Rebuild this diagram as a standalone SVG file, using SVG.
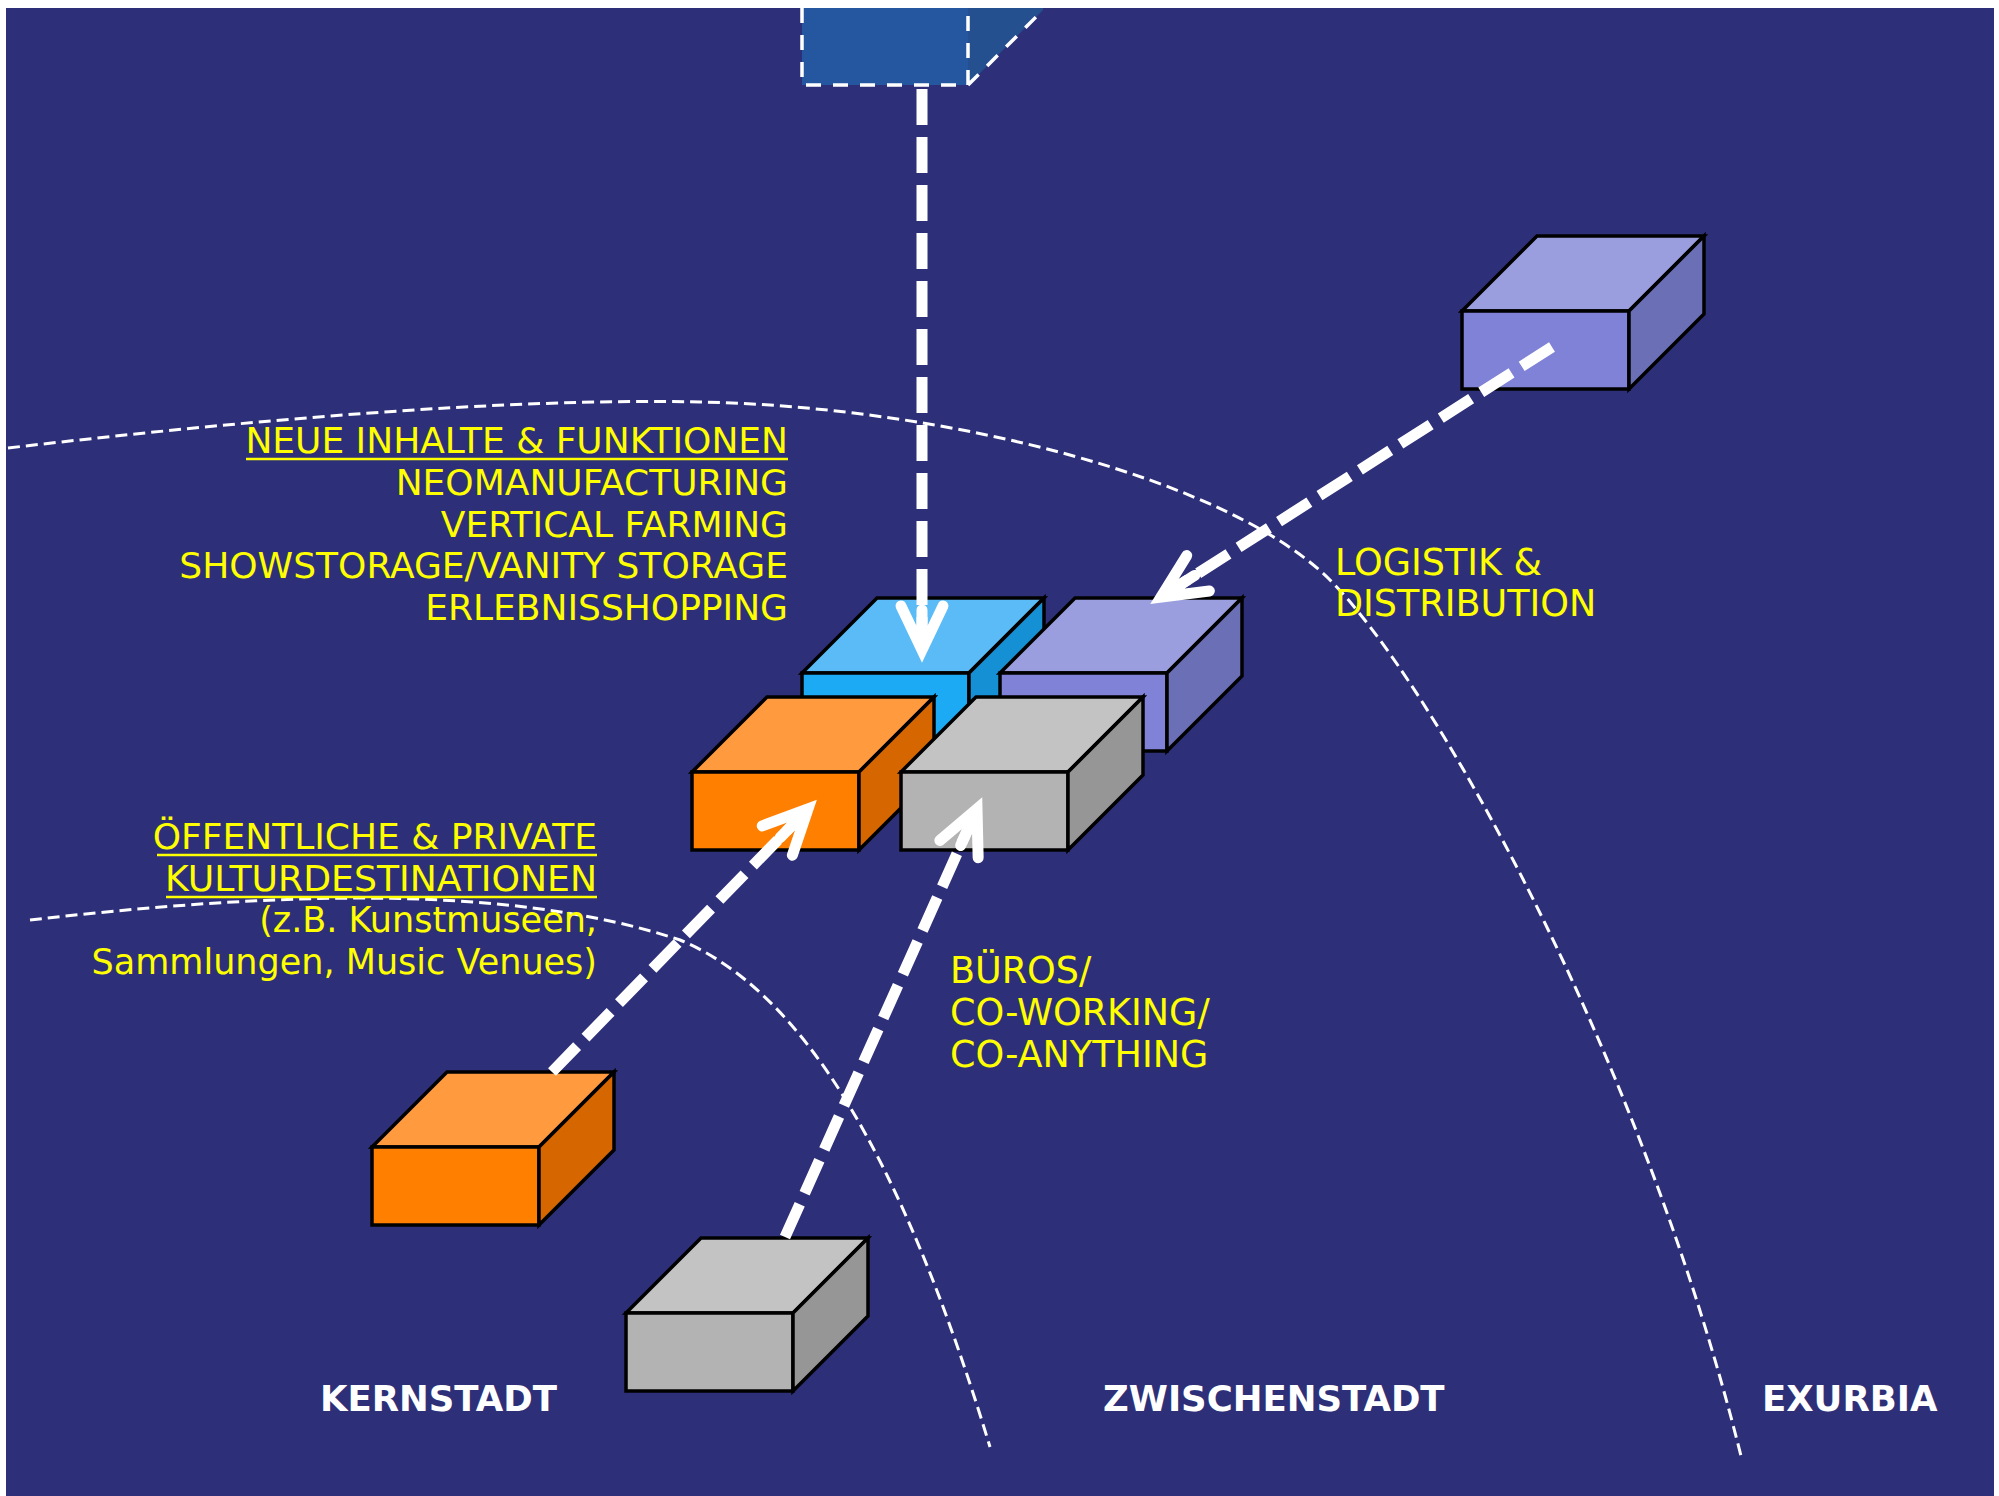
<svg xmlns="http://www.w3.org/2000/svg" width="1999" height="1496" viewBox="0 0 1999 1496">
<style>
.bx{stroke:#000;stroke-width:3.5;stroke-linejoin:miter}
.bt{fill:#5BBBF7}.bf{fill:#1CAAF5}.bs{fill:#1690D4}
.pt{fill:#9A9EDF}.pf{fill:#7F82D6}.ps{fill:#6B6FB6}
.ot{fill:#FF9A3E}.of{fill:#FF7F00}.os{fill:#D56600}
.gt{fill:#C3C3C3}.gf{fill:#B3B3B3}.gs{fill:#969696}
.zone{fill:none;stroke:#fff;stroke-width:3;stroke-dasharray:12 6}
.conn{fill:none;stroke:#fff;stroke-width:11;stroke-dasharray:36 12}
.ylw{font-family:"DejaVu Sans",Verdana,sans-serif;font-size:36px;fill:#FFFF00}
.ul{stroke:#FFFF00;stroke-width:2.5}
.zl{font-family:"DejaVu Sans",Verdana,sans-serif;font-size:35.5px;font-weight:bold;fill:#fff}
</style>
<defs>
<marker id="ah" markerUnits="userSpaceOnUse" viewBox="-60 -30 70 60" refX="0" refY="0" markerWidth="70" markerHeight="60" orient="auto" overflow="visible">
<path d="M-44,-21 L0,0 L-44,21 M-40,0 L0,0" fill="none" stroke="#fff" stroke-width="11" stroke-linecap="round" stroke-linejoin="miter" stroke-miterlimit="10"/>
</marker>
</defs>
<rect x="0" y="0" width="1999" height="1496" fill="#fff"/>
<rect x="6" y="8" width="1988" height="1488" fill="#2D3079"/>

<g id="zones">
<path class="zone" d="M8,448 C250,420 500,398 700,402 C950,407 1230,480 1330,580 C1430,680 1640,1050 1741,1456"/>
<path class="zone" d="M30,920 C250,895 500,880 680,940 C800,990 900,1150 990,1447"/>
</g>

<g id="box-top">
<rect x="802" y="8" width="166" height="77" fill="#2557A0"/>
<polygon points="968,8 1043,8 1043,10 968,85" fill="#25508F"/>
<path d="M802,8 L802,85 L968,85 L968,8 M968,85 L1043,10" fill="none" stroke="#fff" stroke-width="3.5" stroke-dasharray="15 12"/>
</g>

<g id="box-blue" class="bx" transform="translate(802,673)">
<polygon class="bt" points="0,0 75,-75 242,-75 167,0"/>
<rect class="bf" x="0" y="0" width="167" height="78"/>
<polygon class="bs" points="167,0 242,-75 242,3 167,78"/>
</g>
<g id="box-purple-mid" class="bx" transform="translate(1000,673)">
<polygon class="pt" points="0,0 75,-75 242,-75 167,0"/>
<rect class="pf" x="0" y="0" width="167" height="78"/>
<polygon class="ps" points="167,0 242,-75 242,3 167,78"/>
</g>
<g id="box-orange-mid" class="bx" transform="translate(692,772)">
<polygon class="ot" points="0,0 75,-75 242,-75 167,0"/>
<rect class="of" x="0" y="0" width="167" height="78"/>
<polygon class="os" points="167,0 242,-75 242,3 167,78"/>
</g>
<g id="box-gray-mid" class="bx" transform="translate(901,772)">
<polygon class="gt" points="0,0 75,-75 242,-75 167,0"/>
<rect class="gf" x="0" y="0" width="167" height="78"/>
<polygon class="gs" points="167,0 242,-75 242,3 167,78"/>
</g>
<g id="box-purple-top" class="bx" transform="translate(1462,311)">
<polygon class="pt" points="0,0 75,-75 242,-75 167,0"/>
<rect class="pf" x="0" y="0" width="167" height="78"/>
<polygon class="ps" points="167,0 242,-75 242,3 167,78"/>
</g>
<g id="box-orange-bottom" class="bx" transform="translate(372,1147)">
<polygon class="ot" points="0,0 75,-75 242,-75 167,0"/>
<rect class="of" x="0" y="0" width="167" height="78"/>
<polygon class="os" points="167,0 242,-75 242,3 167,78"/>
</g>
<g id="box-gray-bottom" class="bx" transform="translate(626,1313)">
<polygon class="gt" points="0,0 75,-75 242,-75 167,0"/>
<rect class="gf" x="0" y="0" width="167" height="78"/>
<polygon class="gs" points="167,0 242,-75 242,3 167,78"/>
</g>

<g id="connectors">
<path class="conn" d="M922,89 L922,650" marker-end="url(#ah)"/>
<path class="conn" d="M1552,347 L1161,597" marker-end="url(#ah)"/>
<path class="conn" d="M552,1072 L808,809" marker-end="url(#ah)"/>
<path class="conn" d="M785,1237 L977,809" marker-end="url(#ah)"/>
</g>

<g id="label-neue" class="ylw" text-anchor="end">
<text x="788" y="453">NEUE INHALTE &amp; FUNKTIONEN</text>
<text x="788" y="495">NEOMANUFACTURING</text>
<text x="788" y="537">VERTICAL FARMING</text>
<text x="788" y="578">SHOWSTORAGE/VANITY STORAGE</text>
<text x="788" y="620">ERLEBNISSHOPPING</text>
</g>
<line class="ul" x1="246" y1="459" x2="788" y2="459"/>

<g id="label-kultur" class="ylw" text-anchor="end" style="font-size:35px">
<text x="597" y="849" style="font-size:36px">ÖFFENTLICHE &amp; PRIVATE</text>
<text x="597" y="891" style="font-size:36.2px">KULTURDESTINATIONEN</text>
<text x="597" y="932">(z.B. Kunstmuseen,</text>
<text x="597" y="974">Sammlungen, Music Venues)</text>
</g>
<line class="ul" x1="157" y1="855" x2="597" y2="855"/>
<line class="ul" x1="166" y1="897" x2="597" y2="897"/>

<g id="label-bueros" class="ylw" style="font-size:36.5px">
<text x="950" y="983">BÜROS/</text>
<text x="950" y="1025">CO-WORKING/</text>
<text x="950" y="1067">CO-ANYTHING</text>
</g>

<g id="label-logistik" class="ylw" style="font-size:36.5px">
<text x="1335" y="575">LOGISTIK &amp;</text>
<text x="1335" y="616">DISTRIBUTION</text>
</g>

<g id="zone-labels" class="zl">
<text x="320" y="1411">KERNSTADT</text>
<text x="1103" y="1411">ZWISCHENSTADT</text>
<text x="1762" y="1411">EXURBIA</text>
</g>
</svg>
